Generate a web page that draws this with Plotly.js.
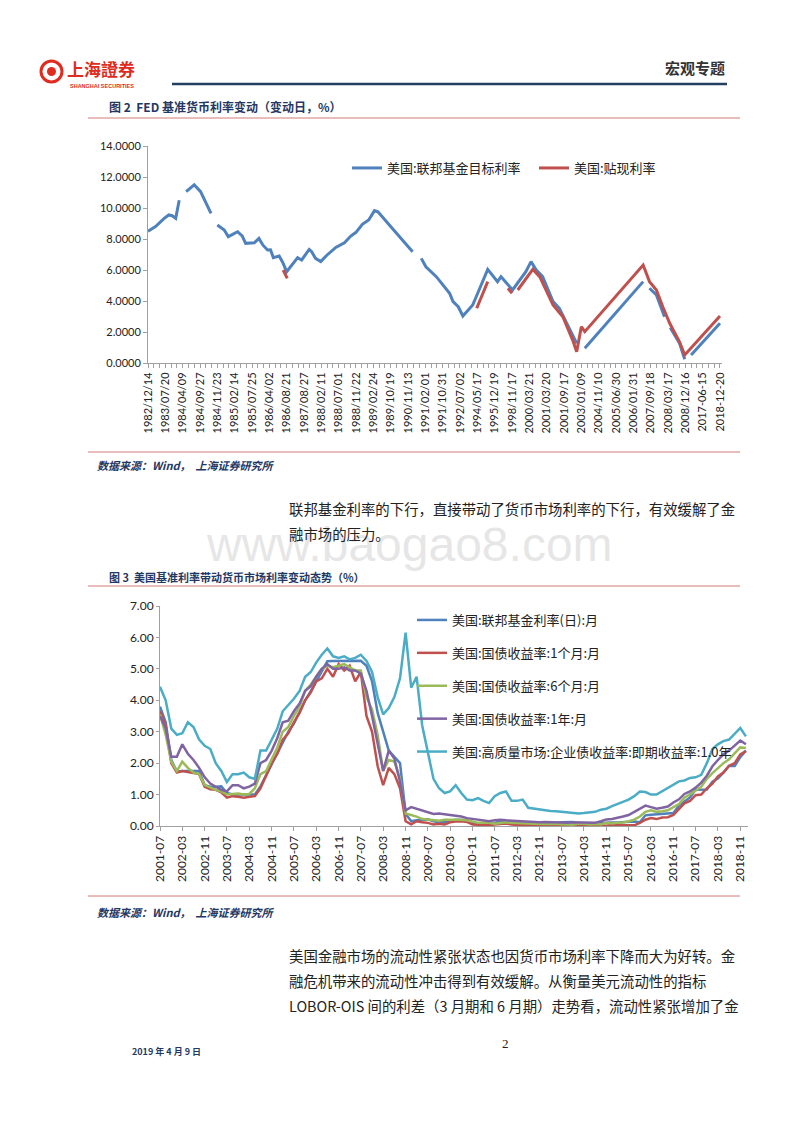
<!DOCTYPE html>
<html><head><meta charset="utf-8">
<script src="https://cdn.plot.ly/plotly-3.0.1.min.js"></script>
<style>html,body{margin:0;padding:0;background:#fff;overflow:hidden}#chart{width:800px;height:1132px}</style>
</head><body><div id="chart"></div>
<script>
// ---------- Figure 2: FED rates by change date ----------
const fig2Labels = ['1982/12/14','1983/07/20','1984/04/09','1984/09/27','1984/11/23','1985/02/14','1985/07/25','1986/04/02','1986/08/21','1987/08/27','1988/02/11','1988/07/01','1988/11/22','1989/02/24','1989/10/19','1990/11/13','1991/02/01','1991/10/31','1992/07/02','1994/05/17','1995/12/19','1998/11/17','2000/03/21','2001/03/20','2001/09/17','2003/01/09','2004/11/10','2005/06/30','2006/01/31','2007/09/18','2008/03/17','2008/12/16','2017-06-15','2018-12-20'];
const fig2LabelStep = 3; // one label every 3 change dates

// federal funds target rate: [category position], [value]; null = blank cell
const fedPos = [0,1.3,2.8,3.6,4.2,4.8,5.4,null,6.6,8.0,9.1,10.9,null,12,13.2,13.9,15.0,15.5,16.3,16.9,18.4,19.2,19.9,20.7,21.2,21.7,22.7,23.3,24,24.8,25.9,26.6,27.9,28.3,29,29.9,31,32.5,34,35.1,36,37.1,38.2,39.2,39.8,42,45.8,null,47.3,48.1,49.9,52.2,52.8,53.7,54.5,56.2,57.3,58.8,60.5,61.1,63.1,65.4,66.3,67.2,68.3,70.1,71.2,73.2,74.2,null,75.6,85.7,null,86.8,88,89.4,null,90.4,92,92.9,null,94,99];
const fedVal = [8.5,8.8,9.33,9.55,9.5,9.33,10.5,null,11.05,11.5,11.05,9.65,null,8.9,8.58,8.15,8.35,8.47,8.2,7.72,7.76,8.04,7.6,7.29,7.3,6.8,6.9,6.5,5.89,6.3,6.8,6.65,7.33,7.2,6.75,6.54,6.97,7.46,7.76,8.19,8.43,8.95,9.23,9.83,9.75,8.8,7.18,null,6.75,6.21,5.57,4.5,3.96,3.63,3.03,3.74,4.71,6.04,5.25,5.57,4.71,5.89,6.54,6.0,5.57,3.96,3.53,2.02,1.27,null,0.95,5.25,null,4.82,4.39,2.99,null,2.28,1.27,0.24,null,0.52,2.56];
// discount rate
const discPos = [23.4,24.1,null,56.9,58.8,null,62.3,63,null,64,66.6,67.8,70.1,71.8,73.5,74.2,75,75.6,85.7,86.8,88,89.1,90.3,92,92.9,99];
const discVal = [6.0,5.46,null,3.53,5.25,null,4.82,4.5,null,4.71,6.04,5.57,3.74,2.99,1.48,0.73,2.34,2.02,6.32,5.25,4.71,3.63,2.56,1.37,0.52,3.03];

// ---------- Figure 3: money market rates (every 2 months, 2001-07 .. 2019-01) ----------
const fig3Ticks = ['2001-07','2002-03','2002-11','2003-07','2004-03','2004-11','2005-07','2006-03','2006-11','2007-07','2008-03','2008-11','2009-07','2010-03','2010-11','2011-07','2012-03','2012-11','2013-07','2014-03','2014-11','2015-07','2016-03','2016-11','2017-07','2018-03','2018-11'];
const fig3Months = [];
for (let m = 0; m <= 210; m += 2) {
  const y = 2001 + Math.floor((6 + m) / 12), mo = (6 + m) % 12 + 1;
  fig3Months.push(y + '-' + String(mo).padStart(2, '0'));
}
const fedFunds = [3.8,3.3,2.1,1.73,1.75,1.75,1.74,1.75,1.3,1.25,1.25,
 1.26,1.05,1.0,1.0,1.0,1.0,1.0,1.26,1.61,1.93,2.28,
 2.63,3.0,3.26,3.62,4.0,4.29,4.59,4.94,5.24,5.25,5.25,
 5.25,5.26,5.25,5.26,5.1,4.6,3.6,3.0,2.4,2.2,2.0,
 0.39,0.15,0.18,0.18,0.21,0.15,0.12,0.12,0.16,0.2,0.19,
 0.18,0.09,0.07,0.08,0.07,0.1,0.15,0.16,0.16,0.14,0.11,
 0.09,0.08,0.07,0.09,0.09,0.1,0.12,0.12,0.13,0.07,0.08,
 0.09,0.09,0.09,0.1,0.11,0.11,0.12,0.13,0.14,0.12,0.34,
 0.36,0.37,0.39,0.40,0.41,0.65,0.79,0.91,1.15,1.15,1.16,
 1.41,1.51,1.70,1.91,1.91,2.19,2.40];
const tb1m = [3.65,3.2,2.0,1.7,1.75,1.72,1.7,1.65,1.25,1.17,1.15,
 1.07,0.9,0.95,0.93,0.9,0.93,0.95,1.2,1.6,2.0,2.3,
 2.75,2.95,3.3,3.6,4.0,4.25,4.6,4.7,5.0,4.75,5.15,
 4.95,5.1,4.6,4.9,3.5,3.0,1.9,1.3,1.85,1.65,1.2,
 0.15,0.05,0.15,0.12,0.1,0.05,0.07,0.05,0.12,0.14,0.15,
 0.13,0.05,0.04,0.02,0.02,0.05,0.07,0.08,0.05,0.04,0.02,
 0.04,0.03,0.03,0.03,0.03,0.02,0.04,0.04,0.03,0.03,0.02,
 0.03,0.03,0.02,0.01,0.03,0.02,0.02,0.01,0.02,0.1,0.2,
 0.25,0.22,0.27,0.28,0.35,0.55,0.72,0.8,0.98,1.0,1.2,
 1.35,1.58,1.7,1.92,2.0,2.28,2.38];
const tb6m = [3.55,2.9,2.05,1.75,2.05,1.85,1.7,1.65,1.3,1.22,1.15,
 1.1,1.0,1.02,1.03,1.0,1.02,1.2,1.65,1.75,2.15,2.5,
 3.0,3.15,3.5,3.8,4.3,4.5,4.75,5.0,5.1,5.05,5.1,
 5.15,5.05,4.95,4.95,4.1,3.7,2.9,1.75,2.1,2.05,1.5,
 0.4,0.35,0.3,0.22,0.2,0.18,0.17,0.2,0.2,0.22,0.2,
 0.18,0.14,0.1,0.1,0.1,0.07,0.1,0.12,0.1,0.1,0.08,
 0.08,0.07,0.06,0.06,0.07,0.07,0.05,0.05,0.04,0.08,0.07,
 0.05,0.06,0.05,0.1,0.08,0.1,0.11,0.15,0.2,0.3,0.45,
 0.5,0.45,0.47,0.5,0.6,0.7,0.9,1.0,1.12,1.25,1.5,
 1.68,1.85,2.0,2.12,2.3,2.5,2.48];
const tb1y = [3.5,3.1,2.2,2.2,2.6,2.3,2.1,1.85,1.55,1.35,1.25,
 1.15,1.1,1.3,1.3,1.2,1.25,1.35,2.0,2.1,2.4,2.8,
 3.3,3.35,3.65,3.9,4.3,4.45,4.75,5.0,5.15,5.0,5.0,
 5.05,4.95,4.95,4.85,4.3,3.5,2.6,1.75,2.4,2.15,1.4,
 0.5,0.6,0.55,0.5,0.45,0.38,0.4,0.38,0.35,0.32,0.3,
 0.25,0.22,0.2,0.18,0.15,0.18,0.2,0.18,0.17,0.16,0.14,
 0.15,0.13,0.12,0.13,0.12,0.12,0.11,0.1,0.12,0.12,0.1,
 0.12,0.1,0.15,0.21,0.22,0.25,0.3,0.35,0.45,0.55,0.65,
 0.6,0.55,0.58,0.62,0.75,0.85,1.02,1.1,1.22,1.38,1.6,
 1.9,2.1,2.28,2.4,2.55,2.72,2.6];
const corp1y = [4.43,4.0,3.1,2.9,2.95,3.3,3.15,2.75,2.55,2.45,2.0,
 1.75,1.4,1.65,1.65,1.7,1.55,1.5,2.4,2.4,2.75,3.1,
 3.65,3.85,4.05,4.3,4.75,4.9,5.2,5.45,5.65,5.4,5.35,
 5.4,5.3,5.35,5.45,5.25,4.9,4.1,3.55,3.75,4.1,4.7,
 6.15,4.4,4.75,3.2,2.3,1.5,1.2,1.05,1.1,1.3,1.05,
 0.84,0.82,0.89,0.8,0.73,0.95,1.05,1.1,0.8,0.8,0.84,
 0.58,0.55,0.52,0.5,0.48,0.47,0.45,0.44,0.43,0.4,0.41,
 0.42,0.45,0.52,0.55,0.63,0.7,0.78,0.84,0.95,1.1,1.08,
 1.0,1.0,1.1,1.2,1.3,1.42,1.45,1.53,1.55,1.63,2.0,
 2.45,2.6,2.7,2.75,2.95,3.12,2.85];
const fig3Names = ['美国:联邦基金利率(日):月','美国:国债收益率:1个月:月','美国:国债收益率:6个月:月','美国:国债收益率:1年:月','美国:高质量市场:企业债收益率:即期收益率:1.0年'];

// ---------- page geometry helpers ----------
const W = 800, H = 1132;
const px = x => x / W, py = y => 1 - y / H;
const CJK = '"Noto Sans CJK SC", sans-serif';
const NUM = 'Lato, "Liberation Sans", sans-serif';
const NAVY = '#1F3864';
const LINE_RED = '#D27A78';

const traces = [
  {x: fedPos, y: fedVal, name: '美国:联邦基金目标利率', type: 'scatter', mode: 'lines', connectgaps: false,
   line: {color: '#4F81BD', width: 3}, xaxis: 'x', yaxis: 'y', legend: 'legend'},
  {x: discPos, y: discVal, name: '美国:贴现利率', type: 'scatter', mode: 'lines', connectgaps: false,
   line: {color: '#C0504D', width: 3}, xaxis: 'x', yaxis: 'y', legend: 'legend'}
];
const fig3Series = [fedFunds, tb1m, tb6m, tb1y, corp1y];
const fig3Colors = ['#4F81BD', '#C0504D', '#9BBB59', '#8064A2', '#4BACC6'];
fig3Series.forEach((s, i) => traces.push({
  x: fig3Months, y: s, name: fig3Names[i], type: 'scatter', mode: 'lines',
  line: {color: fig3Colors[i], width: 2.5}, xaxis: 'x2', yaxis: 'y2', legend: 'legend2', legendgroup: 'g' + i
}));

const axisCommon = {showgrid: false, zeroline: false, showline: true, linecolor: '#A0A0A0', linewidth: 1,
  automargin: false, ticks: 'outside', ticklen: 4, tickcolor: '#A0A0A0', tickfont: {family: NUM, size: 11, color: '#222'}};

const fig2TickVals = fig2Labels.map((_, i) => i * fig2LabelStep);

function ann(text, x, y, opts) {
  return Object.assign({text: text, x: px(x), y: py(y), xref: 'paper', yref: 'paper', showarrow: false,
    xanchor: 'left', yanchor: 'middle', font: {family: CJK, size: 13, color: '#222'}}, opts || {});
}
function hline(x0, x1, y, color, width) {
  return {type: 'line', xref: 'paper', yref: 'paper', x0: px(x0), x1: px(x1), y0: py(y), y1: py(y),
    line: {color: color, width: width}};
}

const layout = {
  width: W, height: H, margin: {l: 0, r: 0, t: 0, b: 0, autoexpand: false},
  paper_bgcolor: '#fff', plot_bgcolor: 'rgba(0,0,0,0)', showlegend: true,
  xaxis: Object.assign({}, axisCommon, {anchor: 'y', domain: [px(148), px(722)], range: [0, 99.35],
    tickmode: 'array', tickvals: fig2TickVals, ticktext: fig2Labels, tickangle: -90,
    minor: {tickmode: 'linear', tick0: 0, dtick: 1, ticks: 'outside', ticklen: 4, tickcolor: '#A0A0A0'}}),
  yaxis: Object.assign({}, axisCommon, {anchor: 'x', domain: [py(363), py(146)], range: [0, 14], dtick: 2, tickformat: '.4f'}),
  xaxis2: Object.assign({}, axisCommon, {anchor: 'y2', type: 'date', domain: [px(160), px(748)], range: ['2001-07-01', '2019-01-24'],
    tickmode: 'array', tickvals: fig3Ticks, ticktext: fig3Ticks, tickangle: -90, tickfont: {family: NUM, size: 12, color: '#222'}}),
  yaxis2: Object.assign({}, axisCommon, {anchor: 'x2', domain: [py(826), py(606)], range: [0, 7], dtick: 1, tickformat: '.2f',
    ticklen: 3, tickfont: {family: NUM, size: 12, color: '#222'}}),
  legend: {orientation: 'h', x: px(347), y: py(168), xanchor: 'left', yanchor: 'middle', bgcolor: 'rgba(0,0,0,0)',
    font: {family: CJK, size: 13, color: '#222'}, entrywidth: 142, entrywidthmode: 'pixels'},
  legend2: {orientation: 'v', x: px(412), y: py(605), xanchor: 'left', yanchor: 'top', bgcolor: 'rgba(0,0,0,0)',
    font: {family: CJK, size: 13, color: '#222'}, tracegroupgap: 13, traceorder: 'grouped'},
  shapes: [
    {type: 'circle', xref: 'paper', yref: 'paper', x0: px(41), x1: px(62), y0: py(82), y1: py(61),
     line: {color: '#E02B20', width: 3}, fillcolor: 'rgba(0,0,0,0)'},
    {type: 'circle', xref: 'paper', yref: 'paper', x0: px(47), x1: px(56), y0: py(76), y1: py(67),
     line: {color: '#E02B20', width: 0}, fillcolor: '#E02B20'},
    hline(172, 727, 84, '#243F60', 2.5),
    hline(88, 740, 118, LINE_RED, 1),
    hline(88, 740, 452, LINE_RED, 1),
    hline(88, 740, 586, LINE_RED, 1),
    hline(88, 740, 896, LINE_RED, 1)
  ],
  annotations: [
    ann('<b>上海證券</b>', 65, 69, {font: {family: '"Noto Sans CJK TC", sans-serif', size: 17, color: '#E02B20'}}),
    ann('<b>SHANGHAI SECURITIES</b>', 68, 86, {font: {family: '"Liberation Sans", sans-serif', size: 5.5, color: '#E02B20'}}),
    ann('<b>宏观专题</b>', 727, 68, {xanchor: 'right', font: {family: CJK, size: 15, color: '#333'}}),
    ann('<b>图 2  FED 基准货币利率变动（变动日，%）</b>', 107, 106, {font: {family: CJK, size: 12, color: NAVY}}),
    ann('<b><i>数据来源：Wind，  上海证券研究所</i></b>', 95, 465, {font: {family: CJK, size: 11, color: NAVY}}),
    ann('www.baogao8.com', 410, 544, {xanchor: 'center', font: {family: '"Liberation Sans", sans-serif', size: 48, color: 'rgba(200,200,200,0.45)'}}),
    ann('联邦基金利率的下行，直接带动了货币市场利率的下行，有效缓解了金', 287, 508, {font: {family: CJK, size: 14.4, color: '#222'}}),
    ann('融市场的压力。', 287, 533, {font: {family: CJK, size: 14.4, color: '#222'}}),
    ann('<b>图 3  美国基准利率带动货币市场利率变动态势（%）</b>', 107, 577, {font: {family: CJK, size: 11, color: NAVY}}),
    ann('<b><i>数据来源：Wind，  上海证券研究所</i></b>', 95, 912, {font: {family: CJK, size: 11, color: NAVY}}),
    ann('美国金融市场的流动性紧张状态也因货币市场利率下降而大为好转。金', 287, 955, {font: {family: CJK, size: 14.4, color: '#222'}}),
    ann('融危机带来的流动性冲击得到有效缓解。从衡量美元流动性的指标', 287, 980, {font: {family: CJK, size: 14.4, color: '#222'}}),
    ann('LOBOR-OIS 间的利差（3 月期和 6 月期）走势看，流动性紧张增加了金', 287, 1005, {font: {family: CJK, size: 14.4, color: '#222'}}),
    ann('<b>2019 年 4 月 9 日</b>', 130, 1051, {font: {family: CJK, size: 9, color: NAVY}}),
    ann('2', 505, 1043, {xanchor: 'center', font: {family: '"Liberation Serif", serif', size: 13, color: '#222'}})
  ]
};

Plotly.newPlot('chart', traces, layout, {displayModeBar: false, staticPlot: true});
</script>
</body></html>
